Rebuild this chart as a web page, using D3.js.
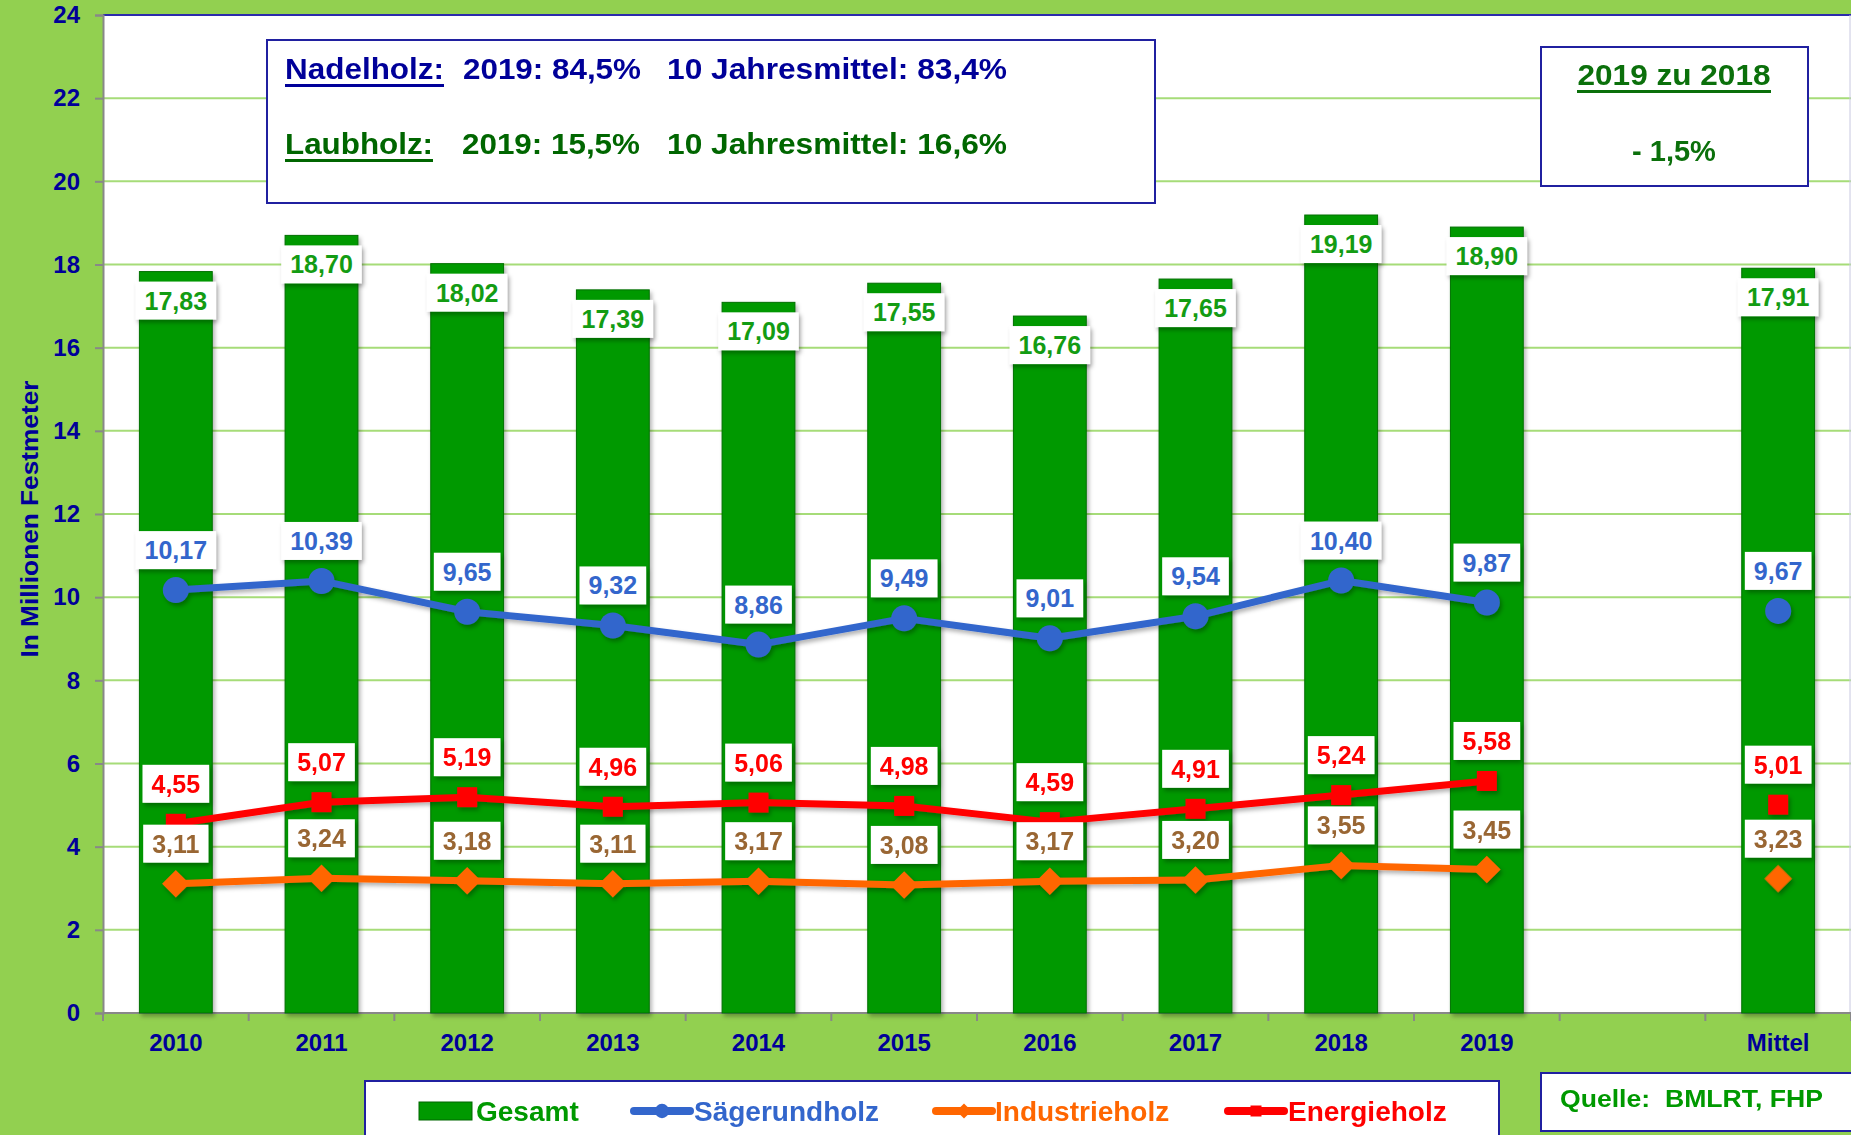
<!DOCTYPE html>
<html>
<head>
<meta charset="utf-8">
<script src="https://cdn.jsdelivr.net/npm/d3@7"></script>
<style>
  body { margin: 0; background: #92D050; }
  svg { display: block; font-family: "Liberation Sans", Arial, sans-serif; font-weight: bold; }
</style>
</head>
<body>
<div id="chart"></div>
<script>
// Rundholzeinschlag in Millionen Festmeter
var categories = ["2010", "2011", "2012", "2013", "2014", "2015", "2016", "2017", "2018", "2019", "", "Mittel"];
var gesamt     = [17.83, 18.70, 18.02, 17.39, 17.09, 17.55, 16.76, 17.65, 19.19, 18.90, null, 17.91];
var saege      = [10.17, 10.39, 9.65, 9.32, 8.86, 9.49, 9.01, 9.54, 10.40, 9.87, null, 9.67];
var energie    = [4.55, 5.07, 5.19, 4.96, 5.06, 4.98, 4.59, 4.91, 5.24, 5.58, null, 5.01];
var industrie  = [3.11, 3.24, 3.18, 3.11, 3.17, 3.08, 3.17, 3.20, 3.55, 3.45, null, 3.23];
var yTicks     = [0, 2, 4, 6, 8, 10, 12, 14, 16, 18, 20, 22, 24];

var W = 1851, H = 1135;
var plotL = 103, plotR = 1851, plotT = 15, plotB = 1013;

var navy = "#000099";
var green = "#009900";
var fmt = function(v) { return v.toFixed(2).replace(".", ","); };

var svg = d3.select("#chart").append("svg")
    .attr("width", W)
    .attr("height", H);

var defs = svg.append("defs");
var f = defs.append("filter").attr("id", "shadow")
    .attr("x", "-20%").attr("y", "-20%").attr("width", "140%").attr("height", "160%");
f.append("feDropShadow")
    .attr("dx", 2).attr("dy", 3).attr("stdDeviation", 2)
    .attr("flood-color", "#000").attr("flood-opacity", 0.3);

svg.append("rect").attr("width", W).attr("height", H).attr("fill", "#92D050");

var x = d3.scaleBand()
    .domain(categories)
    .range([plotL, plotR])
    .paddingInner(0.5)
    .paddingOuter(0.25);
var y = d3.scaleLinear()
    .domain([0, 24])
    .range([plotB, plotT]);

var cx = function(i) { return x(categories[i]) + x.bandwidth() / 2; };

// plot area
svg.append("rect")
    .attr("x", plotL).attr("y", plotT)
    .attr("width", plotR - plotL).attr("height", plotB - plotT)
    .attr("fill", "#fff");

// gridlines
svg.append("g").selectAll("line")
    .data(yTicks.filter(function(t) { return t > 0 && t < 24; }))
    .enter().append("line")
    .attr("x1", plotL).attr("x2", plotR)
    .attr("y1", function(d) { return y(d); })
    .attr("y2", function(d) { return y(d); })
    .attr("stroke", "#a6dc78")
    .attr("stroke-width", 2);

svg.append("line")
    .attr("x1", plotL).attr("x2", plotR)
    .attr("y1", y(24)).attr("y2", y(24))
    .attr("stroke", "#2b2bab").attr("stroke-width", 2);
svg.append("line")
    .attr("x1", plotR - 1).attr("x2", plotR - 1)
    .attr("y1", plotT).attr("y2", plotB)
    .attr("stroke", "#c8c8e0").attr("stroke-width", 1);

// y axis
var yAxis = svg.append("g")
    .attr("transform", "translate(" + plotL + ",0)")
    .call(d3.axisLeft(y).tickValues(yTicks).tickSize(8).tickPadding(15));
yAxis.select(".domain").attr("stroke", "#888").attr("stroke-width", 2);
yAxis.selectAll(".tick line").attr("stroke", "#888").attr("stroke-width", 2);
yAxis.selectAll("text")
    .attr("fill", navy)
    .style("font-size", "24px")
    .style("font-family", "Liberation Sans, Arial, sans-serif")
    .style("font-weight", "bold");

svg.append("text")
    .attr("transform", "translate(38," + ((plotT + plotB) / 2 + 5) + ") rotate(-90)")
    .attr("text-anchor", "middle")
    .attr("fill", navy)
    .style("font-size", "23px")
    .attr("textLength", 277)
    .attr("lengthAdjust", "spacingAndGlyphs")
    .text("In Millionen Festmeter");

// x axis
var xAxis = svg.append("g")
    .attr("transform", "translate(0," + plotB + ")")
    .call(d3.axisBottom(x).tickSize(0).tickPadding(21));
xAxis.select(".domain").remove();
xAxis.selectAll("text")
    .attr("fill", navy)
    .style("font-size", "24px")
    .style("font-family", "Liberation Sans, Arial, sans-serif")
    .style("font-weight", "bold");

svg.append("line")
    .attr("x1", plotL).attr("x2", plotR)
    .attr("y1", plotB).attr("y2", plotB)
    .attr("stroke", "#888").attr("stroke-width", 2);
svg.append("g").selectAll("line")
    .data(d3.range(categories.length + 1))
    .enter().append("line")
    .attr("x1", function(i) { return plotL + i * x.step(); })
    .attr("x2", function(i) { return plotL + i * x.step(); })
    .attr("y1", plotB).attr("y2", plotB + 8)
    .attr("stroke", "#888").attr("stroke-width", 2);

// bars
var idx = d3.range(categories.length).filter(function(i) { return gesamt[i] != null; });

svg.append("g").selectAll("rect")
    .data(idx)
    .enter().append("rect")
    .attr("x", function(i) { return x(categories[i]); })
    .attr("y", function(i) { return y(gesamt[i]); })
    .attr("width", x.bandwidth())
    .attr("height", function(i) { return plotB - y(gesamt[i]); })
    .attr("fill", green)
    .attr("stroke", "#007000")
    .attr("stroke-width", 1)
    .attr("filter", "url(#shadow)");

// label helper: white box with value
function label(g, px, py, txt, color) {
    var grp = g.append("g");
    var box = grp.append("rect").attr("fill", "#fff").attr("filter", "url(#shadow)");
    var t = grp.append("text")
        .attr("x", px).attr("y", py)
        .attr("dy", "0.36em")
        .attr("text-anchor", "middle")
        .attr("fill", color)
        .style("font-size", "25px")
        .text(txt);
    var w = t.node().getComputedTextLength() + 18;
    box.attr("x", px - w / 2).attr("y", py - 19).attr("width", w).attr("height", 38);
}

var gBarLabels = svg.append("g");
idx.forEach(function(i) {
    label(gBarLabels, cx(i), y(gesamt[i]) + 29, fmt(gesamt[i]), "#139c13");
});

// lines
var series = [
    {values: saege, color: "#3366CC", text: "#3366CC", shape: "circle"},
    {values: industrie, color: "#FF6600", text: "#996633", shape: "diamond"},
    {values: energie, color: "#FF0000", text: "#FF0000", shape: "square"}
];

var line = d3.line()
    .defined(function(d) { return d.v != null; })
    .x(function(d) { return cx(d.i); })
    .y(function(d) { return y(d.v); });

function marker(g, shape, px, py, scale) {
    if (shape === "circle") {
        g.append("circle").attr("cx", px).attr("cy", py).attr("r", 13 * scale);
    } else if (shape === "square") {
        g.append("path")
            .attr("transform", "translate(" + px + "," + py + ")")
            .attr("d", d3.symbol().type(d3.symbolSquare).size(400 * scale * scale)());
    } else {
        g.append("path")
            .attr("transform", "translate(" + px + "," + py + ") rotate(45)")
            .attr("d", d3.symbol().type(d3.symbolSquare).size(380 * scale * scale)());
    }
}

series.forEach(function(s) {
    var pts = d3.range(10).map(function(i) { return {i: i, v: s.values[i]}; });
    var g = svg.append("g").attr("filter", "url(#shadow)");
    g.append("path")
        .datum(pts)
        .attr("fill", "none")
        .attr("stroke", s.color)
        .attr("stroke-width", 7)
        .attr("stroke-linejoin", "round")
        .attr("d", line);
    var m = g.append("g").attr("fill", s.color);
    idx.forEach(function(i) { marker(m, s.shape, cx(i), y(s.values[i]), 1); });
});

var gLineLabels = svg.append("g");
series.forEach(function(s) {
    idx.forEach(function(i) {
        label(gLineLabels, cx(i), y(s.values[i]) - 40, fmt(s.values[i]), s.text);
    });
});

// info box Nadelholz / Laubholz
var info = svg.append("g");
info.append("rect")
    .attr("x", 267).attr("y", 40).attr("width", 888).attr("height", 163)
    .attr("fill", "#fff").attr("stroke", "#2020a0").attr("stroke-width", 2);

var infoRows = [
    {y: 79, color: navy, parts: [["Nadelholz:", 285, 159, true], ["2019: 84,5%", 463, 178], ["10 Jahresmittel: 83,4%", 667, 340]]},
    {y: 154, color: "#006600", parts: [["Laubholz:", 285, 148, true], ["2019: 15,5%", 462, 178], ["10 Jahresmittel: 16,6%", 667, 340]]}
];
infoRows.forEach(function(r) {
    r.parts.forEach(function(p) {
        info.append("text")
            .attr("x", p[1]).attr("y", r.y)
            .attr("fill", r.color)
            .style("font-size", "29px")
            .attr("textLength", p[2])
            .attr("lengthAdjust", "spacingAndGlyphs")
            .text(p[0]);
        if (p[3]) {
            info.append("rect")
                .attr("x", p[1]).attr("y", r.y + 5)
                .attr("width", p[2]).attr("height", 3)
                .attr("fill", r.color);
        }
    });
});

// box 2019 zu 2018
var cmp = svg.append("g");
cmp.append("rect")
    .attr("x", 1541).attr("y", 47).attr("width", 267).attr("height", 139)
    .attr("fill", "#fff").attr("stroke", "#2020a0").attr("stroke-width", 2);
cmp.append("text")
    .attr("x", 1674).attr("y", 85)
    .attr("text-anchor", "middle").attr("fill", "#0b700b")
    .style("font-size", "29px")
    .attr("textLength", 193).attr("lengthAdjust", "spacingAndGlyphs")
    .text("2019 zu 2018");
cmp.append("rect")
    .attr("x", 1577).attr("y", 90).attr("width", 194).attr("height", 3)
    .attr("fill", "#0b700b");
cmp.append("text")
    .attr("x", 1674).attr("y", 161)
    .attr("text-anchor", "middle").attr("fill", "#0b700b")
    .style("font-size", "29px")
    .text("- 1,5%");

// legend
var leg = svg.append("g");
leg.append("rect")
    .attr("x", 365).attr("y", 1081).attr("width", 1134).attr("height", 80)
    .attr("fill", "#fff").attr("stroke", "#2020a0").attr("stroke-width", 2);

var legItems = [
    {name: "Gesamt", x0: 419, tx: 476, color: green, text: green, shape: "bar"},
    {name: "Sägerundholz", x0: 634, tx: 694, color: "#3366CC", text: "#3366CC", shape: "circle"},
    {name: "Industrieholz", x0: 936, tx: 995, color: "#FF6600", text: "#FF6600", shape: "diamond"},
    {name: "Energieholz", x0: 1228, tx: 1288, color: "#FF0000", text: "#FF0000", shape: "square"}
];
var ly = 1111;
legItems.forEach(function(it) {
    if (it.shape === "bar") {
        leg.append("rect")
            .attr("x", it.x0).attr("y", ly - 9).attr("width", 53).attr("height", 18)
            .attr("fill", green).attr("stroke", "#006600").attr("stroke-width", 1);
    } else {
        leg.append("line")
            .attr("x1", it.x0).attr("x2", it.x0 + 56)
            .attr("y1", ly).attr("y2", ly)
            .attr("stroke", it.color).attr("stroke-width", 8)
            .attr("stroke-linecap", "round");
        var m = leg.append("g").attr("fill", it.color);
        marker(m, it.shape, it.x0 + 28, ly, 0.55);
    }
    leg.append("text")
        .attr("x", it.tx).attr("y", ly)
        .attr("dy", "0.36em")
        .attr("fill", it.text)
        .style("font-size", "28px")
        .text(it.name);
});

// source
svg.append("rect")
    .attr("x", 1541).attr("y", 1073).attr("width", 320).attr("height", 58)
    .attr("fill", "#fff").attr("stroke", "#2020a0").attr("stroke-width", 2);
svg.append("text")
    .attr("x", 1560).attr("y", 1107)
    .attr("fill", green)
    .style("font-size", "24px")
    .attr("textLength", 263).attr("lengthAdjust", "spacingAndGlyphs")
    .text("Quelle:\u00a0 BMLRT, FHP");
</script>
</body>
</html>
